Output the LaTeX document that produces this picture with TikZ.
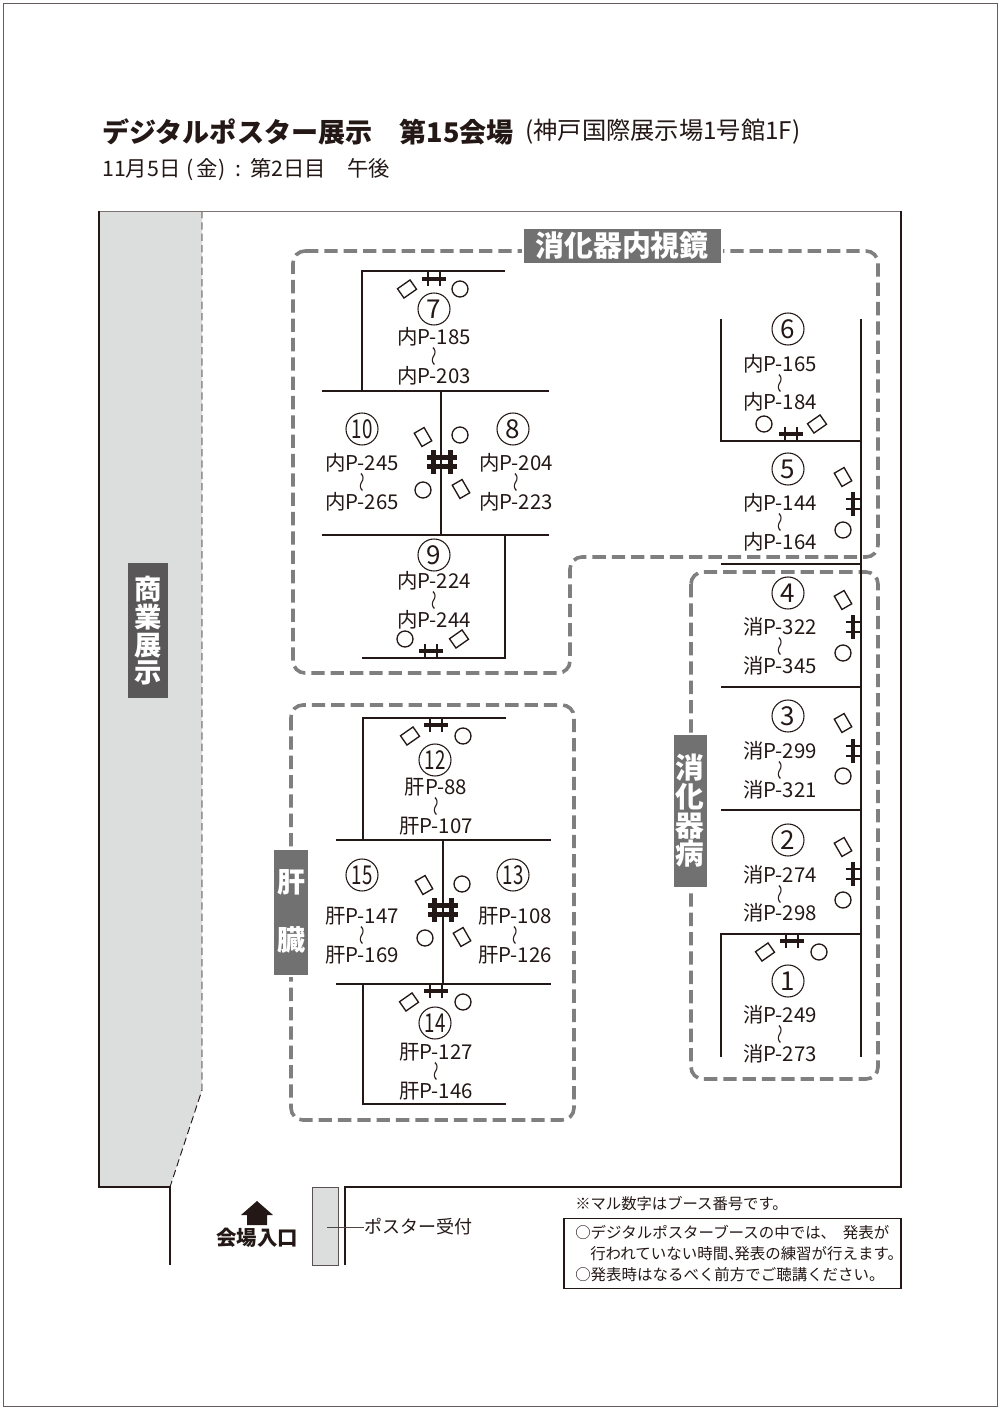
\documentclass[tikz,border=0pt]{standalone}
\usepackage{fontspec}
\setmainfont{Noto Sans CJK JP}
\definecolor{wallc}{HTML}{231815}
\definecolor{zonec}{HTML}{7F7F7F}
\definecolor{darkl}{HTML}{595757}
\definecolor{midl}{HTML}{727171}
\definecolor{greyf}{HTML}{DCDDDD}
\tikzset{
  x=0.75pt,y=-0.75pt,
  wall/.style={draw=wallc,line width=2.05pt,line cap=butt,line join=miter},
  zone/.style={draw=zonec,line width=2.7pt,dash pattern=on 10pt off 4.5pt,rounded corners=9pt},
  lab/.style={inner sep=0pt,text=wallc,font=\fontsize{15.3}{15.3}\selectfont},
  wav/.style={inner sep=0pt,text=wallc,rotate=90,yshift=-1.2pt,font=\fontsize{15}{15}\selectfont},
  num/.style={circle,draw=wallc,line width=0.8pt,minimum size=24pt,inner sep=0pt,text=wallc,font=\fontsize{19.5}{19.5}\selectfont},
  desk/.style={draw=wallc,line width=1pt,minimum width=11.5pt,minimum height=8.5pt,inner sep=0pt,fill=white},
  stool/.style={circle,draw=wallc,line width=1pt,minimum size=12pt,inner sep=0pt},
  tvbar/.style={draw=wallc,line width=3pt},
  tvleg/.style={draw=wallc,line width=2pt},
  tvfat/.style={draw=wallc,line width=3.1pt},
  tag/.style={inner sep=0pt,text=white,align=center},
  tagbox/.style={draw=white,line width=0.8pt},
  head/.style={inner sep=0pt,anchor=west,text=wallc},
}
% booth: id, num x, num y, numeral, text x, top y, bottom y, top label, bottom label
\newcommand\boothtxt[9]{%
  \node[num] (n#1) at (#2,#3) {#4};
  \node[lab] (t#1) at (#5,#6) {#8};
  \node[lab] (b#1) at (#5,#7) {#9};
  \node[wav] (w#1) at ($(t#1)!0.5!(b#1)$) {\scalebox{1}[.7]{〜}};
}
\newcommand\tvh[2]{\begin{scope}[shift={(#1,#2)}]
  \draw[tvbar] (-12,0) -- (12,0);
  \draw[tvleg] (-6,-7) -- (-6,7) (6,-7) -- (6,7);
\end{scope}}
\newcommand\tvv[2]{\begin{scope}[shift={(#1,#2)}]
  \draw[tvbar] (0,-12) -- (0,12);
  \draw[tvleg] (-7,-5) -- (8,-5) (-7,5) -- (8,5);
\end{scope}}
\newcommand\tvd[2]{\begin{scope}[shift={(#1,#2)}]
  \draw[tvfat] (-8.5,-12) -- (-8.5,12) (8.5,-12) -- (8.5,12);
  \draw[tvfat] (-15,-4.5) -- (15,-4.5) (-15,4.5) -- (15,4.5);
\end{scope}}
\newcommand\desk[4]{\node[desk,rotate=#4] (d#1) at (#2,#3) {};}
\newcommand\stool[3]{\node[stool] (s#1) at (#2,#3) {};}
\usetikzlibrary{calc}
\begin{document}
\begin{tikzpicture}
\useasboundingbox (0,0) rectangle (1000,1409);
\fill[white] (0,0) rectangle (1000,1409);
\draw[draw=wallc!70,line width=0.6pt] (3,3) rectangle (997,1406);
% titles
\node[head,font=\bfseries\fontsize{20.3}{20.3}\selectfont] (title) at (102,132) {デジタルポスター展示　第15会場};
\node[head,font=\fontsize{18.2}{18.2}\selectfont] (place) at (525,132) {(神戸国際展示場1号館1F)};
\node[head,font=\fontsize{16}{16}\selectfont] (date) at (102,170) {11月5日\kern4.5pt(\kern2pt金\kern0.5pt)\kern7.5pt:\kern6.5pt第2日目　午後};
% hall
\fill[greyf] (99,211) -- (202,211) -- (202,1090) -- (170,1187) -- (99,1187) -- cycle;
\draw[draw=wallc,line width=0.7pt,dash pattern=on 5.5pt off 3pt] (202,211) -- (202,1090) -- (170,1187);
\draw[draw=wallc!60,line width=0.6pt] (99,211) -- (901,211);
\draw[wall,line width=1.7pt] (170,1265) -- (170,1187) -- (99,1187) -- (99,211);
\draw[wall,line width=1.7pt] (345,1265) -- (345,1187) -- (901,1187) -- (901,211);
% zones
\draw[zone] (293,251) -- (878,251) -- (878,557) -- (570,557) -- (570,673) -- (293,673) -- cycle;
\draw[zone] (691,572) rectangle (878,1079);
\draw[zone] (291,705) rectangle (574,1120);
% walls left block
\draw[wall] (505,271) -- (362,271) -- (362,391);
\draw[wall] (322,391) -- (549,391);
\draw[wall] (441,391) -- (441,535);
\draw[wall] (322,535) -- (549,535);
\draw[wall] (505,535) -- (505,658) -- (362,658);
% walls liver block
\draw[wall] (506,718) -- (363,718) -- (363,840);
\draw[wall] (336,840) -- (551,840);
\draw[wall] (443,840) -- (443,984);
\draw[wall] (336,984) -- (551,984);
\draw[wall] (363,984) -- (363,1104) -- (506,1104);
% walls right block
\draw[wall] (721,319) -- (721,441) -- (861,441);
\draw[wall] (861,319) -- (861,1057);
\draw[wall] (721,564) -- (861,564);
\draw[wall] (721,687) -- (861,687);
\draw[wall] (721,810) -- (861,810);
\draw[wall] (721,1057) -- (721,934) -- (861,934);
% furniture
\tvh{434}{279}\desk{7}{407}{289}{35}\stool{7}{460}{289}
\tvd{442}{462}\desk{10}{423}{437}{-60}\stool{8}{460}{435}\desk{8}{461}{489}{-60}\stool{10}{423}{490}
\tvh{431}{651}\stool{9}{405}{639}\desk{9}{459}{639}{35}
\tvh{791}{434}\stool{6}{764}{424}\desk{6}{817}{424}{35}
\tvv{853}{504}\desk{5}{843}{477}{-60}\stool{5}{843}{530}
\tvv{853}{627}\desk{4}{843}{600}{-60}\stool{4}{843}{653}
\tvv{853}{751}\desk{3}{843}{723}{-60}\stool{3}{843}{776}
\tvv{853}{874}\desk{2}{843}{847}{-60}\stool{2}{843}{900}
\tvh{792}{941}\desk{1}{765}{952}{35}\stool{1}{819}{952}
\tvh{436}{725}\desk{12}{410}{736}{35}\stool{12}{463}{736}
\tvd{443}{910}\desk{15}{424}{885}{-60}\stool{13}{462}{884}\desk{13}{462}{937}{-60}\stool{15}{425}{938}
\tvh{436}{991}\desk{14}{409}{1002}{35}\stool{14}{463}{1002}
% booth texts
\boothtxt{7}{434}{309}{7}{434}{337}{376}{内P-185}{内P-203}
\boothtxt{10}{362}{429}{\scalebox{.72}[1]{10}}{362}{463}{502}{内P-245}{内P-265}
\boothtxt{8}{513}{429}{8}{516}{463}{502}{内P-204}{内P-223}
\boothtxt{9}{434}{555}{9}{434}{581}{620}{内P-224}{内P-244}
\boothtxt{6}{788}{329}{6}{780}{364}{402}{内P-165}{内P-184}
\boothtxt{5}{788}{469}{5}{780}{503}{542}{内P-144}{内P-164}
\boothtxt{4}{788}{593}{4}{780}{627}{666}{消P-322}{消P-345}
\boothtxt{3}{788}{716}{3}{780}{751}{790}{消P-299}{消P-321}
\boothtxt{2}{788}{840}{2}{780}{875}{913}{消P-274}{消P-298}
\boothtxt{1}{788}{981}{1}{780}{1015}{1054}{消P-249}{消P-273}
\boothtxt{12}{435}{760}{\scalebox{.72}[1]{12}}{436}{787}{826}{肝P-88}{肝P-107}
\boothtxt{15}{362}{875}{\scalebox{.72}[1]{15}}{362}{916}{955}{肝P-147}{肝P-169}
\boothtxt{13}{513}{875}{\scalebox{.72}[1]{13}}{515}{916}{955}{肝P-108}{肝P-126}
\boothtxt{14}{435}{1023}{\scalebox{.72}[1]{14}}{436}{1052}{1091}{肝P-127}{肝P-146}
% zone labels
\fill[darkl] (128,563) rectangle (168,698);
\node[tag,font=\bfseries\fontsize{20.5}{20.8}\selectfont] (shogyo) at (148,631) {商\\業\\展\\示};
\path[fill=midl,tagbox] (523,228) rectangle (722,264);
\node[tag,font=\bfseries\fontsize{21.7}{21.7}\selectfont] (endo) at (622,246) {消化器内視鏡};
\path[fill=midl,tagbox] (673,734) rectangle (708,888);
\node[tag,font=\bfseries\fontsize{21.5}{21.5}\selectfont] (dige) at (690,811) {消\\化\\器\\病};
\path[fill=midl,tagbox] (273,849) rectangle (309,976);
\node[tag,font=\bfseries\fontsize{21}{43.5}\selectfont] (liver) at (291,911) {肝\\臓};
% entrance
\fill[wallc] (257,1201) -- (273,1215) -- (267,1215) -- (267,1225) -- (247,1225) -- (247,1215) -- (241,1215) -- cycle;
\node[inner sep=0pt,text=wallc,font=\bfseries\fontsize{15.3}{15.3}\selectfont] (entry) at (257,1238) {会場入口};
% reception
\node[draw=wallc!75,fill=greyf,line width=0.6pt,minimum width=20pt,minimum height=58pt,inner sep=0pt] (recep) at (325.5,1226.5) {};
\node[lab,anchor=west,font=\fontsize{13.5}{13.5}\selectfont] (recept) at (364,1227) {ポスター受付};
\coordinate (recin) at (327,1227);
\draw[draw=wallc!80,line width=0.5pt] (recin) -- (recept.west);
% notes
\node[head,font=\fontsize{11.5}{11.5}\selectfont] (note0) at (575,1204) {※マル数字はブース番号です。};
\node[draw=wallc,line width=0.9pt,minimum width=252.75pt,minimum height=53pt,inner sep=0pt] (notebox) at (732.5,1253.5) {};
\node[head,font=\fontsize{11.6}{11.6}\selectfont] (note1) at (575,1233) {○デジタルポスターブースの中では、\kern5pt発表が};
\node[head,font=\fontsize{11.6}{11.6}\selectfont] (note2) at (590,1254) {行われていない時間、\kern-7pt発表の練習が行えます。};
\node[head,font=\fontsize{11.6}{11.6}\selectfont] (note3) at (575,1275) {○発表時はなるべく前方でご聴講ください。};
\end{tikzpicture}
\end{document}
